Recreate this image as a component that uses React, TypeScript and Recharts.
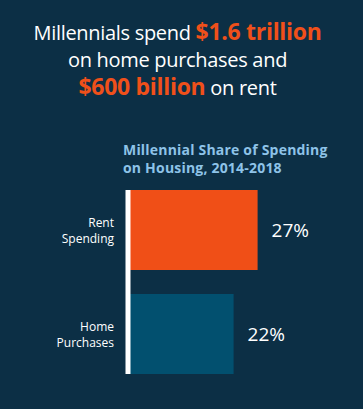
import { Bar, BarChart, LabelList, XAxis, YAxis } from "recharts"

const CATEGORIES = ["Rent Spending", "Home Purchases"] as const
const SHARES = [27, 22]
const BAR_COLORS = ["#f04f17", "#02506f"]
const X_DOMAIN: [number, number] = [0, 30]

const data = CATEGORIES.map((name, i) => ({ name, share: SHARES[i], fill: BAR_COLORS[i] }))

const FONT = "'Open Sans', 'Noto Sans', sans-serif"

function CategoryTick(props: any) {
  const { x, y, payload } = props
  const [first, second] = String(payload.value).split(" ")
  return (
    <g>
      <text x={x} y={y - 3} textAnchor="end" fill="#ffffff" fontSize={12} fontFamily={FONT}>
        {first}
      </text>
      <text x={x} y={y + 13} textAnchor="end" fill="#ffffff" fontSize={12} fontFamily={FONT}>
        {second}
      </text>
    </g>
  )
}

export default function App() {
  return (
    <div
      style={{
        position: "absolute",
        left: 0,
        top: 0,
        width: 363,
        height: 409,
        background: "#0c2f45",
        fontFamily: FONT,
        overflow: "hidden",
      }}
    >
      <div
        style={{
          position: "absolute",
          top: 18,
          left: -4,
          width: 363,
          textAlign: "center",
          color: "#ffffff",
          fontSize: 20,
          lineHeight: "27px",
          letterSpacing: -0.3,
        }}
      >
        <div>
          Millennials spend <b style={{ color: "#f0501a", fontSize: 23 }}>$1.6 trillion</b>
        </div>
        <div>on home purchases and</div>
        <div>
          <b style={{ color: "#f0501a", fontSize: 23 }}>$600 billion</b> on rent
        </div>
      </div>

      <div
        style={{
          position: "absolute",
          top: 141,
          left: 123,
          color: "#8ec3e8",
          fontSize: 14,
          fontWeight: 700,
          lineHeight: "18px",
          letterSpacing: 0.2,
        }}
      >
        <div>Millennial Share of Spending</div>
        <div>on Housing, 2014-2018</div>
      </div>

      <div style={{ position: "absolute", top: 190, left: 0 }}>
        <BarChart
          width={363}
          height={184}
          data={data}
          layout="vertical"
          margin={{ top: 0, right: 91, bottom: 0, left: 0 }}
          barSize={80}
        >
          <XAxis type="number" domain={X_DOMAIN} hide />
          <YAxis
            type="category"
            dataKey="name"
            width={128}
            padding={{ top: -12, bottom: -12 }}
            axisLine={{ stroke: "#ffffff", strokeWidth: 5 }}
            tickLine={false}
            tickMargin={8}
            tick={<CategoryTick />}
          />
          <Bar dataKey="share" isAnimationActive={false}>
            <LabelList
              dataKey="share"
              position="right"
              offset={14}
              formatter={(v: any) => `${v}%`}
              fill="#ffffff"
              fontSize={19}
              fontFamily={FONT}
            />
          </Bar>
        </BarChart>
      </div>
    </div>
  )
}
